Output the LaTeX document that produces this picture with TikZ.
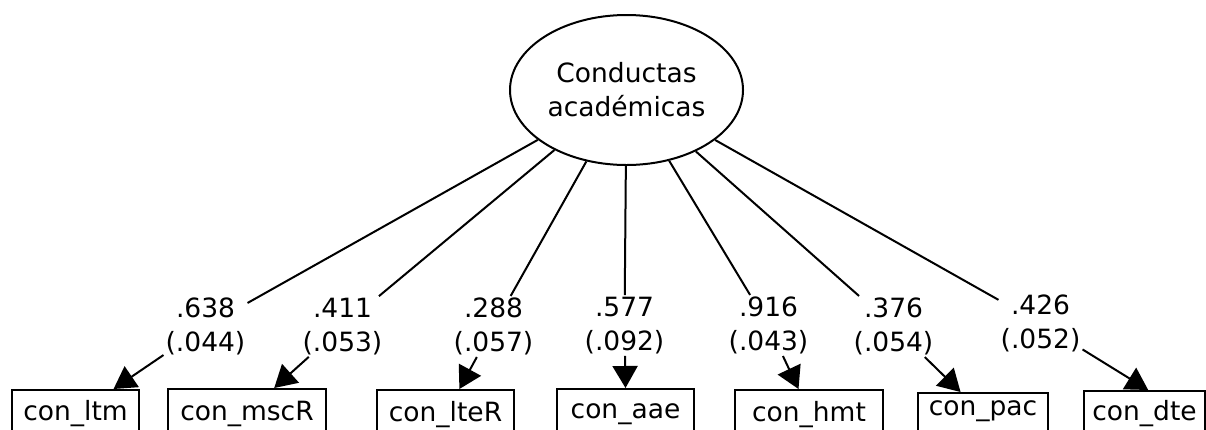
\documentclass[tikz,border=0pt]{standalone}
\usepackage{fontspec}
\setmainfont{DejaVu Sans}
\usetikzlibrary{shapes.geometric,arrows.meta,calc}

\begin{document}
\begin{tikzpicture}[x=1pt,y=-1pt,
  every node/.style={font=\fontsize{26.5}{33.5}\selectfont},
  latent/.style={draw, ellipse, line width=2pt, minimum width=233pt,
    minimum height=150pt, inner sep=0pt, align=center,
    font=\fontsize{26.5}{34}\selectfont},
  est/.style={align=center, inner sep=2pt},
  obs/.style={draw, line width=2pt, anchor=north west, inner xsep=0pt,
    inner ysep=0pt, text depth=40pt},
  loading/.style={line width=2pt},
  toind/.style={line width=2pt, -{Triangle[length=22pt,width=25pt]}}
]
\clip (0,0) rectangle (1206,429);

% latent factor
\node[latent] (F) at (626.5,90) {Conductas\\académicas};

% estimates (standardised loading and standard error)
\node[est] (L1) at (205.5,326.5) {.638\\(.044)};
\node[est] (L2) at (342.5,326.5) {.411\\(.053)};
\node[est] (L3) at (493.5,326.5) {.288\\(.057)};
\node[est] (L4) at (624.5,325.5) {.577\\(.092)};
\node[est] (L5) at (768.5,325.5) {.916\\(.043)};
\node[est] (L6) at (893.5,326.5) {.376\\(.054)};
\node[est] (L7) at (1040.5,323.5) {.426\\(.052)};

% observed indicators
\node[obs, minimum width=127pt, text height=30pt] (B1) at (11,389)  {con\_ltm};
\node[obs, minimum width=158pt, text height=31pt] (B2) at (167,388) {con\_mscR};
\node[obs, minimum width=137pt, text height=31pt] (B3) at (376,389) {con\_lteR};
\node[obs, minimum width=137pt, text height=29pt] (B4) at (556,388) {con\_aae};
\node[obs, minimum width=148pt, text height=31pt] (B5) at (734,389) {con\_hmt};
\node[obs, minimum width=130pt, text height=22pt] (B6) at (917,392) {con\_pac};
\node[obs, minimum width=121pt, text height=29pt] (B7) at (1083,390) {con\_dte};

% factor to estimates
\foreach \i in {1,...,7}{
  \draw[loading] (F) -- (L\i);
}

% estimates to indicators
\draw[toind] (L1) -- ($(B1.north west)!0.795!(B1.north east)$);
\draw[toind] (L2) -- ($(B2.north west)!0.67!(B2.north east)$);
\draw[toind] (L3) -- ($(B3.north west)!0.60!(B3.north east)$);
\draw[toind] (L4) -- ($(B4.north west)!0.50!(B4.north east)$);
\draw[toind] (L5) -- ($(B5.north west)!0.43!(B5.north east)$);
\draw[toind] (L6) -- ($(B6.north west)!0.33!(B6.north east)$);
\draw[toind] (L7) -- ($(B7.north west)!0.53!(B7.north east)$);
\end{tikzpicture}
\end{document}
